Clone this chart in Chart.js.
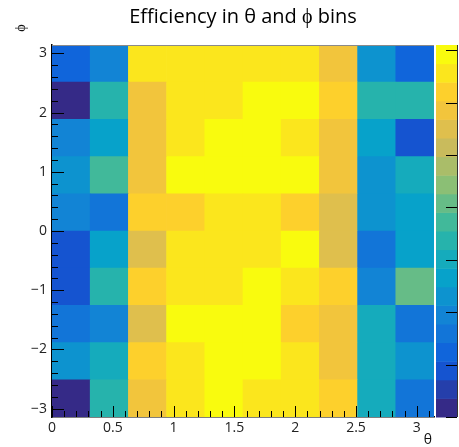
<!DOCTYPE html>
<html>
<head>
<meta charset="utf-8">
<script src="https://cdn.jsdelivr.net/npm/chart.js@4.4.1/dist/chart.umd.min.js"></script>
<style>
  html, body { margin: 0; padding: 0; background: #fff; }
</style>
</head>
<body>
<canvas id="effChart" width="459" height="447"></canvas>
<script>
// binning: 10 theta bins x 10 phi bins
const thetaMin = 0, thetaMax = Math.PI, nTheta = 10;
const phiMin = -Math.PI, phiMax = Math.PI, nPhi = 10;

// tick labels
const xTicks = [0, 0.5, 1, 1.5, 2, 2.5, 3];
const yTicks = [-3, -2, -1, 0, 1, 2, 3];
const zTicks = [0.3, 0.4, 0.5, 0.6, 0.7, 0.8, 0.9, 1.0];
const zMin = 0.3, zMax = 1.01, nLevels = 20;

// efficiency, one array per phi bin (bottom -> top), values along theta
const effPhi0 = [0.32, 0.64, 0.89, 0.96, 0.99, 0.96, 0.96, 0.92, 0.60, 0.46];
const effPhi1 = [0.53, 0.60, 0.92, 0.96, 0.99, 0.99, 0.96, 0.89, 0.60, 0.53];
const effPhi2 = [0.46, 0.50, 0.85, 0.99, 0.99, 0.99, 0.92, 0.89, 0.60, 0.46];
const effPhi3 = [0.39, 0.64, 0.92, 0.96, 0.96, 0.99, 0.96, 0.92, 0.50, 0.71];
const effPhi4 = [0.39, 0.57, 0.85, 0.96, 0.96, 0.96, 0.99, 0.85, 0.46, 0.57];
const effPhi5 = [0.50, 0.46, 0.92, 0.92, 0.96, 0.96, 0.92, 0.85, 0.53, 0.57];
const effPhi6 = [0.53, 0.67, 0.89, 0.99, 0.99, 0.99, 0.99, 0.89, 0.53, 0.60];
const effPhi7 = [0.50, 0.57, 0.89, 0.96, 0.99, 0.99, 0.96, 0.89, 0.57, 0.39];
const effPhi8 = [0.32, 0.64, 0.89, 0.96, 0.96, 0.99, 0.99, 0.92, 0.64, 0.64];
const effPhi9 = [0.42, 0.50, 0.96, 0.96, 0.96, 0.96, 0.96, 0.89, 0.53, 0.42];
const effRows = [effPhi0, effPhi1, effPhi2, effPhi3, effPhi4, effPhi5, effPhi6, effPhi7, effPhi8, effPhi9];

// ROOT kBird palette
const stops = [0.0, 0.125, 0.25, 0.375, 0.5, 0.625, 0.75, 0.875, 1.0];
const red   = [0.2082, 0.0592, 0.0780, 0.0232, 0.1802, 0.5301, 0.8186, 0.9956, 0.9764];
const green = [0.1664, 0.3599, 0.5041, 0.6419, 0.7178, 0.7492, 0.7328, 0.7862, 0.9832];
const blue  = [0.5293, 0.8684, 0.8385, 0.7914, 0.6425, 0.4662, 0.3499, 0.1968, 0.0539];

function bird(f) {
  let i = 0;
  while (i < stops.length - 2 && f > stops[i + 1]) i++;
  const t = (f - stops[i]) / (stops[i + 1] - stops[i]);
  const c = a => Math.round(255 * (a[i] + (a[i + 1] - a[i]) * t));
  return 'rgb(' + c(red) + ',' + c(green) + ',' + c(blue) + ')';
}
function levelOf(v) {
  let k = Math.floor((v - zMin) / (zMax - zMin) * nLevels);
  return Math.max(0, Math.min(nLevels - 1, k));
}
function colorFor(v) {
  return bird(levelOf(v) / (nLevels - 1));
}

const thetaW = (thetaMax - thetaMin) / nTheta;
const phiW = (phiMax - phiMin) / nPhi;

const datasets = effRows.map((row, j) => ({
  data: row.map((v, i) => ({
    x: thetaMin + (i + 0.5) * thetaW,
    y: [phiMin + j * phiW, phiMin + (j + 1) * phiW]
  })),
  backgroundColor: row.map(colorFor),
  borderWidth: 0,
  barPercentage: 1,
  categoryPercentage: 1,
  grouped: false
}));

const fmt = v => (v < 0 ? '\u2212' + Math.abs(v) : String(v));
const font = 'Open Sans';

// inward ticks, frame, palette and axis titles (ROOT style)
const rootDecor = {
  id: 'rootDecor',
  afterDatasetsDraw(chart) {
    const ctx = chart.ctx, a = chart.chartArea;
    const xs = chart.scales.x, ys = chart.scales.y, zs = chart.scales.z;
    ctx.save();
    ctx.strokeStyle = '#000';
    ctx.lineWidth = 1;

    // x ticks (minor every 0.1)
    for (let t = 0; t <= thetaMax + 1e-9; t += 0.1) {
      const major = Math.abs(t * 2 - Math.round(t * 2)) < 1e-6;
      const px = Math.round(xs.getPixelForValue(t)) + 0.5;
      ctx.beginPath();
      ctx.moveTo(px, a.bottom);
      ctx.lineTo(px, a.bottom - (major ? 11 : 6));
      ctx.stroke();
    }
    // y ticks (minor every 0.2)
    for (let p = -3.2; p <= phiMax + 1e-9; p += 0.2) {
      if (p < phiMin) continue;
      const major = Math.abs(p - Math.round(p)) < 1e-6;
      const py = Math.round(ys.getPixelForValue(p)) + 0.5;
      ctx.beginPath();
      ctx.moveTo(a.left, py);
      ctx.lineTo(a.left + (major ? 12 : 6), py);
      ctx.stroke();
    }

    // frame top
    ctx.strokeStyle = '#8a8a8a';
    ctx.beginPath();
    ctx.moveTo(a.left, Math.round(a.top) + 0.5);
    ctx.lineTo(a.right, Math.round(a.top) + 0.5);
    ctx.stroke();

    // palette
    const pl = a.right + 2, pr = chart.width - 2;
    for (let k = 0; k < nLevels; k++) {
      const lo = zMin + k * (zMax - zMin) / nLevels;
      const hi = zMin + (k + 1) * (zMax - zMin) / nLevels;
      const y0 = zs.getPixelForValue(lo), y1 = zs.getPixelForValue(hi);
      ctx.fillStyle = bird(k / (nLevels - 1));
      ctx.fillRect(pl, y1, pr - pl, y0 - y1 + 0.5);
    }
    ctx.strokeStyle = '#333';
    ctx.beginPath();
    ctx.moveTo(pr + 0.5, a.top);
    ctx.lineTo(pr + 0.5, a.bottom);
    ctx.stroke();
    ctx.strokeStyle = '#000';
    zTicks.forEach(v => {
      const py = Math.round(zs.getPixelForValue(v)) + 0.5;
      ctx.beginPath();
      ctx.moveTo(pr, py);
      ctx.lineTo(pr - 11, py);
      ctx.stroke();
    });

    // axis titles
    ctx.fillStyle = '#111';
    ctx.font = '14px "' + font + '"';
    ctx.textAlign = 'center';
    ctx.textBaseline = 'middle';
    ctx.fillText('\u03b8', 428, 440);
    ctx.translate(21, 28);
    ctx.rotate(-Math.PI / 2);
    ctx.fillText('\u03d5', 0, 0);
    ctx.restore();
  }
};

new Chart('effChart', {
  type: 'bar',
  data: { datasets: datasets },
  options: {
    responsive: false,
    animation: false,
    layout: { padding: { left: 0, right: 25, top: 0, bottom: 0 } },
    plugins: {
      legend: { display: false },
      tooltip: { enabled: false },
      title: {
        display: true,
        fullSize: false,
        text: 'Efficiency in \u03b8 and \u03d5 bins',
        color: '#000',
        font: { family: font, size: 20, weight: 'normal' },
        padding: { top: 5, bottom: 16 }
      }
    },
    scales: {
      x: {
        type: 'linear',
        min: thetaMin,
        max: thetaMax,
        offset: false,
        afterBuildTicks: s => { s.ticks = xTicks.map(v => ({ value: v })); },
        afterFit: s => { s.height = 30; },
        grid: { display: false, drawTicks: false, offset: false },
        border: { display: true, color: '#000', width: 1.5 },
        ticks: { callback: fmt, color: '#222', padding: 3, maxRotation: 0, autoSkip: false,
                 font: { family: font, size: 14 } }
      },
      y: {
        type: 'linear',
        min: phiMin,
        max: phiMax,
        afterBuildTicks: s => { s.ticks = yTicks.map(v => ({ value: v })); },
        afterFit: s => { s.width = 52; },
        grid: { display: false, drawTicks: false },
        border: { display: true, color: '#000', width: 1.5 },
        ticks: { callback: fmt, color: '#222', padding: 5, autoSkip: false,
                 font: { family: font, size: 14 } }
      },
      z: {
        type: 'linear',
        display: false,
        position: 'right',
        min: zMin,
        max: zMax
      }
    }
  },
  plugins: [rootDecor]
});
</script>
</body>
</html>
